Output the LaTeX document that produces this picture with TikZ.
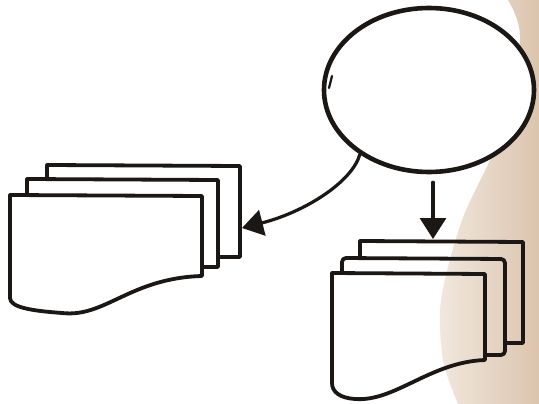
\documentclass[tikz,border=0pt]{standalone}
\usepackage{tikz}
\usetikzlibrary{arrows.meta, shapes.geometric}
\definecolor{inkDark}{HTML}{1A1714}
\definecolor{skinLight}{HTML}{F1E8DE}
\definecolor{skinDark}{HTML}{DBC4AD}

\begin{document}
\begin{tikzpicture}[
  x=1pt, y=-1pt,
  sheet/.style={draw=inkDark, line width=3.8pt, line join=round, line cap=round},
  bubble/.style={ellipse, draw=inkDark, fill=white, line width=4.6pt, minimum width=210pt, minimum height=164pt, inner sep=0pt},
  flow/.style={draw=inkDark, line width=3.2pt, line cap=round, -{Triangle[length=21pt, width=26pt]}}
]
  \useasboundingbox (0,0) rectangle (539,404);
  \fill[white] (0,0) rectangle (539,404);

  % Background: photo tint at the right edge
  \shade[left color=skinLight, right color=skinDark]
    plot[smooth] coordinates {(508,0) (520,40) (498,140) (462,220) (441,300) (443,360) (458,404)}
    -- (539,404) -- (539,0) -- cycle;

  % Source bubble
  \node[bubble] at (429,90) (src) {};
  \draw[sheet, line width=2.2pt] (329,88) -- (332,76);

  % Stack A: three sheets, left
  \draw[sheet] (47,179) -- (47,165) -- (240,166) -- (240,257) -- (219,257);
  \draw[sheet] (27,195) -- (27,179) -- (218,180) -- (218,267) -- (203,267);
  \draw[sheet] (10,195) -- (202,196) -- (202,276)
    .. controls (130,278) and (105,318) .. (62,313)
    .. controls (35,311) and (10,308) .. (10,298) -- cycle;
  \coordinate (docA) at (242,228);

  % Stack B: three sheets, below the bubble
  \draw[sheet] (360,258) -- (360,241) -- (523,242) -- (523,343) -- (506,343);
  \draw[sheet, rounded corners=4pt] (342,273) -- (342,258) -- (505,259) -- (505,355) -- (486,355);
  \draw[sheet] (332,273) -- (485,274) -- (485,360)
    .. controls (430,362) and (395,402) .. (355,399)
    .. controls (340,398) and (332,392) .. (332,383) -- cycle;
  \coordinate (docB) at (433,239);

  % Connectors
  \draw[flow] (src.223) .. controls (352,182) and (305,212) .. (docA);
  \draw[flow] ([xshift=4pt, yshift=-8pt]src.south) -- (docB);
\end{tikzpicture}
\end{document}
